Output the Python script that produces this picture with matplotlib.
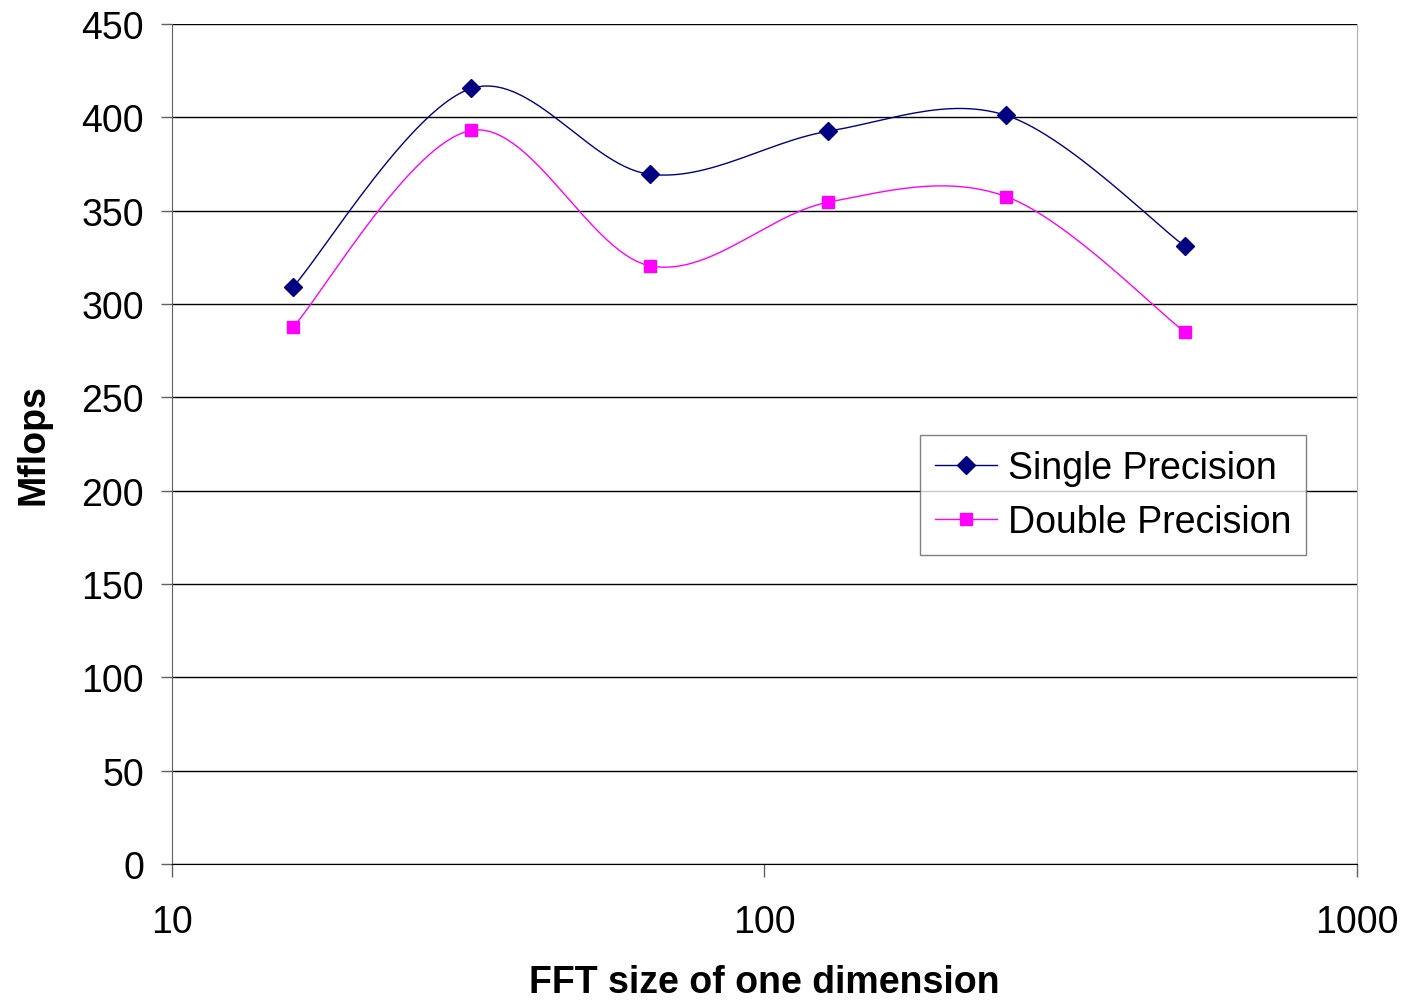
import numpy as np
import matplotlib
matplotlib.use('Agg')
from matplotlib import pyplot as plt
from matplotlib.ticker import FixedLocator, NullLocator, FixedFormatter

plt.rcParams['font.family'] = ['Liberation Sans', 'DejaVu Sans']

fft_sizes = [16, 32, 64, 128, 256, 512]
single_mflops = [309, 415.5, 369.5, 392.5, 401, 331]
double_mflops = [287.5, 393, 320.5, 354.5, 357.5, 285]


def smooth_curve(x, y, steps=30):
    # Bezier smoothing through the points (Catmull-Rom control points) in log-x space
    lx = np.log10(x)
    pts = np.column_stack([lx, y])
    out = [pts[0]]
    n = len(pts)
    for i in range(n - 1):
        p0 = pts[i - 1] if i > 0 else pts[i]
        p1 = pts[i]
        p2 = pts[i + 1]
        p3 = pts[i + 2] if i + 2 < n else pts[i + 1]
        c1 = p1 + (p2 - p0) / 6.0
        c2 = p2 - (p3 - p1) / 6.0
        t = np.linspace(0, 1, steps)[1:, None]
        seg = ((1 - t) ** 3) * p1 + 3 * ((1 - t) ** 2) * t * c1 + 3 * (1 - t) * t ** 2 * c2 + t ** 3 * p2
        out.extend(seg)
    out = np.array(out)
    return 10 ** out[:, 0], out[:, 1]


fig = plt.figure(figsize=(14.05, 10.03), dpi=100)
ax = fig.add_axes([0.1224, 0.1376, 0.8434, 0.8375])

sx, sy = smooth_curve(fft_sizes, single_mflops)
dx, dy = smooth_curve(fft_sizes, double_mflops)
ax.plot(sx, sy, color='#000080', lw=1.0, zorder=3)
ax.plot(dx, dy, color='#FF00FF', lw=1.0, zorder=3)
ax.plot(fft_sizes, single_mflops, ls='none', marker='D', ms=9.5, color='#000080', zorder=4)
ax.plot(fft_sizes, double_mflops, ls='none', marker='s', ms=9, color='#FF00FF', zorder=4)

# legend proxies: line with a marker in the middle
ax.plot([], [], color='#000080', lw=1.0, marker='D', ms=9.5, label='Single Precision')
ax.plot([], [], color='#FF00FF', lw=1.0, marker='s', ms=9, label='Double Precision')

ax.set_xscale('log')
ax.set_xlim(10, 1000)
ax.set_ylim(0, 450)
ax.xaxis.set_major_locator(FixedLocator([10, 100, 1000]))
ax.xaxis.set_major_formatter(FixedFormatter(['10', '100', '1000']))
ax.xaxis.set_minor_locator(NullLocator())
ax.set_yticks(np.arange(0, 451, 50))

ax.grid(axis='y', color='black', lw=1.0)
ax.set_axisbelow(True)
ax.spines['top'].set_visible(False)
ax.spines['right'].set_color('#b0b0b0')
ax.spines['left'].set_color('#606060')
ax.spines['bottom'].set_color('black')

ax.tick_params(axis='y', direction='out', length=8, width=1, labelsize=27, pad=12, color='#606060')
ax.tick_params(axis='x', direction='out', length=9, width=1, labelsize=27, pad=20, color='#606060')

ax.set_ylabel('Mflops', fontsize=27, fontweight='bold', labelpad=22)
ax.set_xlabel('FFT size of one dimension', fontsize=27, fontweight='bold', labelpad=17)

leg = ax.legend(loc='upper left', bbox_to_anchor=(0.631, 0.511), fontsize=27, frameon=True,
                fancybox=False, borderpad=0.4, handlelength=1.65, handletextpad=0.3,
                labelspacing=0.5, borderaxespad=0)
leg.get_frame().set_edgecolor('#606060')
leg.get_frame().set_linewidth(1.0)

fig.savefig('out.png', dpi=100)
